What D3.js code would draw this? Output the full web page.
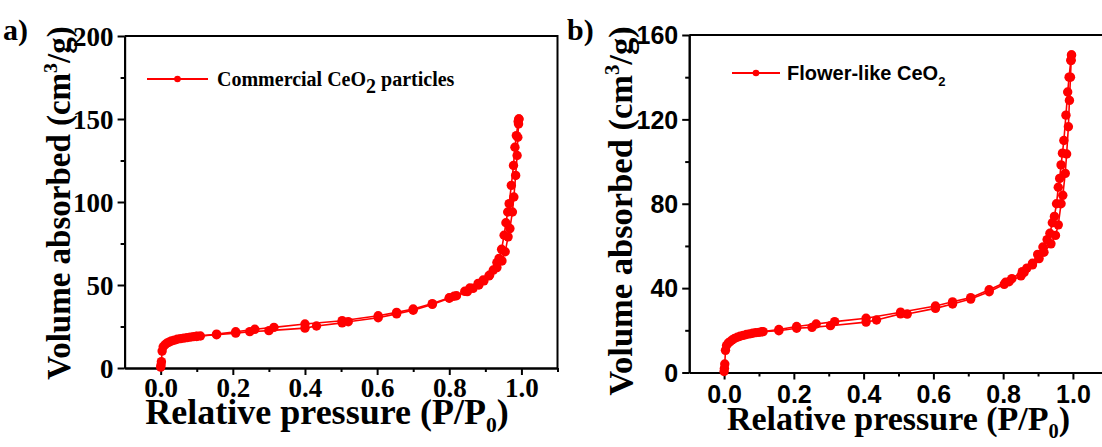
<!DOCTYPE html>
<html>
<head>
<meta charset="utf-8">
<script src="https://cdn.jsdelivr.net/npm/d3@7"></script>
<style>
  html, body { margin: 0; padding: 0; background: #fff; }
  svg { display: block; }
</style>
</head>
<body>
<svg id="chart" width="1102" height="447"></svg>
<script>
// N2 adsorption-desorption isotherms (relative pressure vs. volume adsorbed)

// Panel a: commercial CeO2 particles
const aAdsP = [0.000, 0.001, 0.002, 0.004, 0.007, 0.012, 0.017, 0.023, 0.030, 0.038, 0.046, 0.055, 0.064, 0.073, 0.082, 0.091, 0.100, 0.155, 0.208, 0.247, 0.300, 0.400, 0.432, 0.503, 0.520, 0.603, 0.654, 0.700, 0.753, 0.800, 0.813, 0.843, 0.857, 0.880, 0.894, 0.912, 0.932, 0.946, 0.955, 0.963, 0.968, 0.975, 0.979, 0.984, 0.988, 0.990, 0.992, 0.993];
const aAdsV = [0.5, 1.8, 3.8, 10.2, 12.8, 14.0, 14.9, 15.6, 16.3, 16.8, 17.3, 17.7, 18.0, 18.3, 18.6, 18.9, 19.2, 20.0, 21.0, 21.9, 22.5, 24.0, 25.3, 27.2, 27.9, 30.3, 32.6, 34.8, 38.3, 42.0, 43.2, 46.2, 48.2, 51.0, 53.0, 56.0, 60.5, 64.5, 70.0, 79.0, 84.0, 94.0, 103.0, 116.0, 128.0, 139.0, 147.0, 150.0];
const aDesP = [0.993, 0.991, 0.986, 0.982, 0.978, 0.972, 0.966, 0.962, 0.957, 0.952, 0.945, 0.938, 0.932, 0.922, 0.910, 0.896, 0.882, 0.866, 0.850, 0.820, 0.800, 0.753, 0.700, 0.654, 0.603, 0.503, 0.400, 0.314, 0.261, 0.208, 0.155, 0.110, 0.100];
const aDesV = [150, 148.5, 140, 133, 122, 110, 99, 94, 87.5, 80, 71.5, 66, 63.5, 59, 55.5, 52.5, 50, 48, 46, 43.5, 42.3, 38.8, 35.5, 33.5, 31.5, 28.5, 26.5, 24.5, 23.3, 21.8, 20.4, 19.3, 19.0];

// Panel b: flower-like CeO2
const bAdsP = [0.000, 0.001, 0.002, 0.004, 0.007, 0.012, 0.017, 0.023, 0.030, 0.038, 0.046, 0.055, 0.064, 0.073, 0.082, 0.091, 0.108, 0.157, 0.208, 0.252, 0.305, 0.407, 0.437, 0.506, 0.525, 0.606, 0.655, 0.707, 0.760, 0.803, 0.817, 0.851, 0.860, 0.884, 0.903, 0.917, 0.937, 0.950, 0.958, 0.966, 0.971, 0.978, 0.982, 0.987, 0.990, 0.993, 0.995, 0.996];
const bAdsV = [0.5, 2.0, 4.0, 10.5, 12.8, 14.0, 14.6, 15.4, 16.1, 16.7, 17.2, 17.6, 18.0, 18.3, 18.6, 18.9, 19.3, 19.8, 21.0, 21.4, 22.2, 23.9, 24.9, 27.8, 27.7, 30.4, 32.5, 34.8, 38.3, 41.8, 43.0, 45.8, 47.4, 51.0, 54.0, 57.0, 61.0, 65.0, 70.0, 80.0, 84.0, 94.4, 103.6, 116.5, 129.0, 140.0, 148.0, 150.5];
const bDesP = [0.996, 0.994, 0.989, 0.985, 0.980, 0.974, 0.970, 0.966, 0.962, 0.958, 0.953, 0.947, 0.941, 0.934, 0.926, 0.914, 0.899, 0.884, 0.868, 0.855, 0.825, 0.807, 0.760, 0.707, 0.655, 0.606, 0.506, 0.407, 0.317, 0.264, 0.208, 0.157, 0.112, 0.100];
const bDesV = [150.5, 148, 140, 133, 122, 110, 104, 98.4, 92, 87.8, 80, 74, 71, 66, 63, 59.5, 56, 51.8, 49.5, 47.8, 44.5, 42.8, 39.2, 35.5, 33.5, 31.5, 28.6, 25.7, 24.1, 23.0, 21.8, 20.4, 19.4, 19.0];

const xTicksMajor = [0, 0.2, 0.4, 0.6, 0.8, 1.0];
const xTicksMinor = [0.1, 0.3, 0.5, 0.7, 0.9, 1.1];
const aYMajor = [0, 50, 100, 150, 200];
const aYMinor = [25, 75, 125, 175];
const bYMajor = [0, 40, 80, 120, 160];
const bYMinor = [20, 60, 100, 140];

const RED = "#ff0000";
const SERIF = "'Liberation Serif', 'Times New Roman', serif";
const SANS = "'Liberation Sans', Arial, sans-serif";
const svg = d3.select("#chart");

function drawPanel(cfg) {
  const x = d3.scaleLinear().domain([-0.1, 1.1]).range([cfg.left, cfg.right]);
  const y = d3.scaleLinear().domain(cfg.yDomain).range([cfg.bottom, cfg.top]);
  const g = svg.append("g");

  // frame: top and right edges
  g.append("path")
    .attr("d", `M${cfg.left},${cfg.top}H${cfg.right}V${cfg.bottom}`)
    .attr("fill", "none").attr("stroke", "#000").attr("stroke-width", 2);

  // x axis
  const xAxisMajor = d3.axisBottom(x).tickValues(xTicksMajor).tickSize(7).tickSizeOuter(0)
    .tickFormat(d3.format(".1f"));
  const xAxisMinor = d3.axisBottom(x).tickValues(xTicksMinor).tickSize(4).tickSizeOuter(0).tickFormat("");
  const gxMin = g.append("g").attr("transform", `translate(0,${cfg.bottom})`).call(xAxisMinor);
  const gx = g.append("g").attr("transform", `translate(0,${cfg.bottom})`).call(xAxisMajor);

  // y axis
  const yAxisMajor = d3.axisLeft(y).tickValues(cfg.yMajor).tickSize(7).tickSizeOuter(0);
  const yAxisMinor = d3.axisLeft(y).tickValues(cfg.yMinor).tickSize(4).tickSizeOuter(0).tickFormat("");
  const gyMin = g.append("g").attr("transform", `translate(${cfg.left},0)`).call(yAxisMinor);
  const gy = g.append("g").attr("transform", `translate(${cfg.left},0)`).call(yAxisMajor);

  [gx, gy, gxMin, gyMin].forEach(a => {
    a.attr("font-family", cfg.tickFont).attr("font-size", cfg.tickSize);
    a.selectAll(".domain").attr("stroke", "#000").attr("stroke-width", 2);
    a.selectAll(".tick line").attr("stroke", "#000").attr("stroke-width", 2);
  });
  gx.selectAll(".tick text")
    .attr("font-weight", "bold").attr("fill", "#000")
    .attr("y", cfg.xTickBase).attr("dy", 0);
  gy.selectAll(".tick text")
    .attr("font-weight", "bold").attr("fill", "#000").attr("x", -11).attr("dy", "0.35em");

  // isotherm branches
  const line = d3.line().x(d => x(d[0])).y(d => y(d[1]));
  const branches = [
    d3.zip(cfg.adsP, cfg.adsV),
    d3.zip(cfg.desP, cfg.desV)
  ];
  const plot = g.append("g");
  branches.forEach(pts => {
    plot.append("path").attr("d", line(pts))
      .attr("fill", "none").attr("stroke", RED).attr("stroke-width", 1.6);
  });
  branches.forEach(pts => {
    plot.selectAll(null).data(pts).enter().append("circle")
      .attr("cx", d => x(d[0])).attr("cy", d => y(d[1])).attr("r", 4.7)
      .attr("fill", RED);
  });

  // legend
  const lg = g.append("g");
  lg.append("line").attr("x1", cfg.legX1).attr("x2", cfg.legX2)
    .attr("y1", cfg.legY).attr("y2", cfg.legY)
    .attr("stroke", RED).attr("stroke-width", 2.2);
  lg.append("circle").attr("cx", (cfg.legX1 + cfg.legX2) / 2).attr("cy", cfg.legY).attr("r", 3.3).attr("fill", RED);
  const lt = lg.append("text").attr("x", cfg.legTextX).attr("y", cfg.legY + cfg.legBaseOff)
    .attr("font-family", cfg.legFont).attr("font-weight", "bold").attr("font-size", cfg.legSize).attr("fill", "#000");
  lt.append("tspan").text(cfg.legPre);
  lt.append("tspan").text("2").attr("font-size", cfg.legSubSize).attr("dy", cfg.legSubDy);
  if (cfg.legPost) lt.append("tspan").text(cfg.legPost).attr("dy", -cfg.legSubDy);

  // x title
  const xt = g.append("text").attr("x", x(0.5) + cfg.xTitleShift).attr("y", cfg.xTitleY)
    .attr("text-anchor", "middle")
    .attr("font-family", SERIF).attr("font-weight", "bold")
    .attr("font-size", cfg.xTitleSize).attr("fill", "#000");
  xt.append("tspan").text("Relative pressure (P/P");
  xt.append("tspan").text("0").attr("font-size", cfg.xTitleSize * 0.6).attr("dy", 8);
  xt.append("tspan").text(")").attr("dy", -8);

  // y title
  const yt = g.append("text")
    .attr("transform", `translate(${cfg.yTitleX},${cfg.yTitleY}) rotate(-90)`)
    .attr("text-anchor", "middle")
    .attr("font-family", SERIF).attr("font-weight", "bold")
    .attr("font-size", cfg.yTitleSize).attr("fill", "#000");
  yt.append("tspan").text("Volume absorbed (cm");
  yt.append("tspan").text("3").attr("font-size", cfg.yTitleSize * 0.6).attr("dy", -13);
  yt.append("tspan").text("/g)").attr("dy", 13);

  // panel tag
  g.append("text").attr("x", cfg.tagX).attr("y", cfg.tagY)
    .attr("font-family", SERIF).attr("font-weight", "bold")
    .attr("font-size", 30).attr("fill", "#000").text(cfg.tag);
}

drawPanel({
  left: 124.6, right: 557.5, top: 36, bottom: 368,
  yDomain: [0, 200], yMajor: aYMajor, yMinor: aYMinor,
  adsP: aAdsP, adsV: aAdsV, desP: aDesP, desV: aDesV,
  tickFont: SERIF, tickSize: 27, xTickBase: 29,
  legX1: 147, legX2: 208, legY: 79, legTextX: 217, legBaseOff: 7,
  legFont: SERIF, legSize: 20, legSubSize: 20, legSubDy: 7,
  legPre: "Commercial CeO", legPost: " particles",
  xTitleSize: 36, xTitleY: 424, xTitleShift: -14,
  yTitleSize: 33, yTitleX: 70, yTitleY: 203,
  tag: "a)", tagX: 3, tagY: 40
});

drawPanel({
  left: 689.2, right: 1107.8, top: 35, bottom: 372.5,
  yDomain: [0, 160], yMajor: bYMajor, yMinor: bYMinor,
  adsP: bAdsP, adsV: bAdsV, desP: bDesP, desV: bDesV,
  tickFont: SANS, tickSize: 25, xTickBase: 30,
  legX1: 732, legX2: 780, legY: 73, legTextX: 787, legBaseOff: 7,
  legFont: SANS, legSize: 20, legSubSize: 13, legSubDy: 6,
  legPre: "Flower-like CeO", legPost: "",
  xTitleSize: 34, xTitleY: 430, xTitleShift: 0,
  yTitleSize: 34.5, yTitleX: 632, yTitleY: 211,
  tag: "b)", tagX: 567, tagY: 40
});
</script>
</body>
</html>
